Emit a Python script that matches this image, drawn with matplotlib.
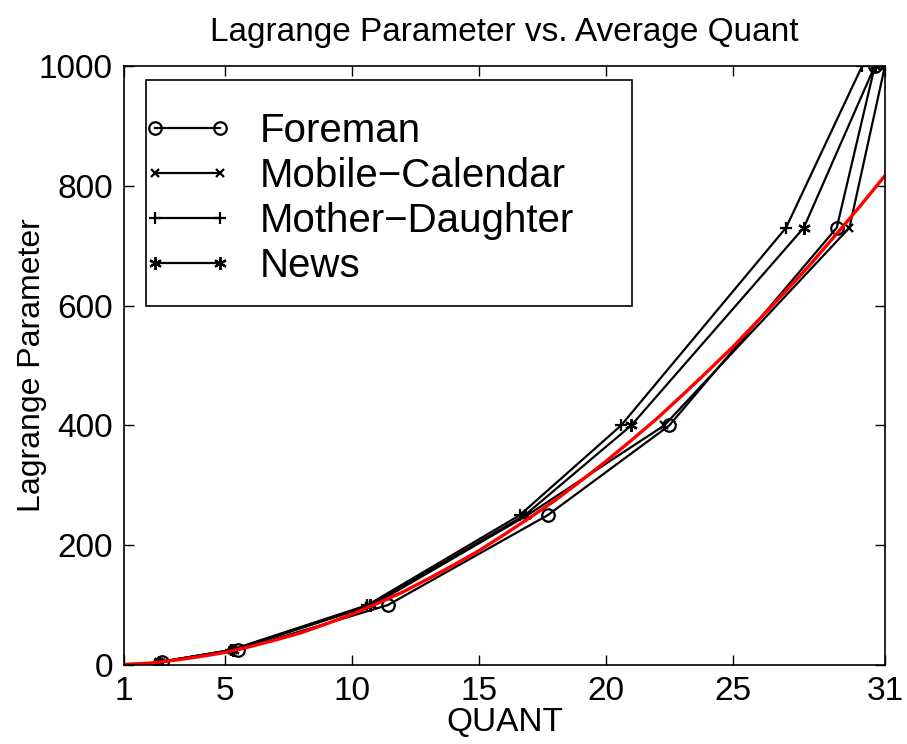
import numpy as np
import matplotlib
matplotlib.use("Agg")
import matplotlib.pyplot as plt
from matplotlib.patches import Rectangle

# lagrange levels used in each sweep
lam = [5, 25, 100, 250, 400, 730, 1000]

# average quant reached per sequence
q_foreman = [2.5, 5.5, 11.4, 17.7, 22.5, 29.1, 30.6]
q_mobile = [2.4, 5.3, 10.8, 16.9, 22.3, 29.6, 31.0]
q_mother = [2.4, 5.2, 10.6, 16.6, 20.6, 27.1, 30.1]
q_news = [2.4, 5.3, 10.7, 16.8, 21.0, 27.8, 30.6]

# red reference curve, sampled at every quant value
q_ref = list(range(1, 32))
lam_ref = [1, 3, 8, 14, 21, 31, 42, 54, 69, 85, 103, 122, 144, 167, 191, 218,
           246, 275, 307, 340, 375, 411, 450, 490, 531, 575, 620, 666, 715, 765, 817]

names = ['Foreman', 'Mobile\u2212Calendar', 'Mother\u2212Daughter', 'News']
markers = ['o', 'x', '+', (6, 2, 0)]

plt.rcParams['font.family'] = ['Liberation Sans', 'DejaVu Sans']

fig = plt.figure(figsize=(9.07, 7.44), dpi=100)
ax = fig.add_axes([0.1367, 0.1062, 0.839, 0.8051])

series = [q_foreman, q_mobile, q_mother, q_news]
for q, name, m in zip(series, names, markers):
    mfc = 'none' if m == 'o' else 'k'
    ax.plot(q, lam, color='k', lw=1.6, marker=m, markersize=9 if m != 'x' else 6,
            mfc=mfc, mec='k', mew=1.6, label=name)

ax.plot(q_ref, lam_ref, color='red', lw=2.4)

ax.set_xlim(1, 31)
ax.set_ylim(0, 1000)
ax.set_xticks([1, 5, 10, 15, 20, 25, 31])
ax.set_yticks([0, 200, 400, 600, 800, 1000])
ax.tick_params(direction='in', length=7, width=1, top=True, right=True,
               labelsize=24, pad=8)
for s in ax.spines.values():
    s.set_linewidth(1.2)

ax.set_title('Lagrange Parameter vs. Average Quant', fontsize=24, pad=18)
ax.set_xlabel('QUANT', fontsize=24, labelpad=0)
ax.set_ylabel('Lagrange Parameter', fontsize=23, labelpad=-6)

# legend box drawn by hand (matlab style, wide right margin)
ax.add_patch(Rectangle((0.0289, 0.5993), 0.6386, 0.3773, transform=ax.transAxes,
                       fill=True, facecolor='white', edgecolor='k', lw=1.2, zorder=4))
leg = ax.legend(loc='upper left', bbox_to_anchor=(0.025, 0.923),
                borderaxespad=0, borderpad=0, fontsize=29, numpoints=2,
                handlelength=2.2, handletextpad=0.7, labelspacing=0.17,
                frameon=False)
leg.set_zorder(5)

fig.savefig('out.png', dpi=100)
